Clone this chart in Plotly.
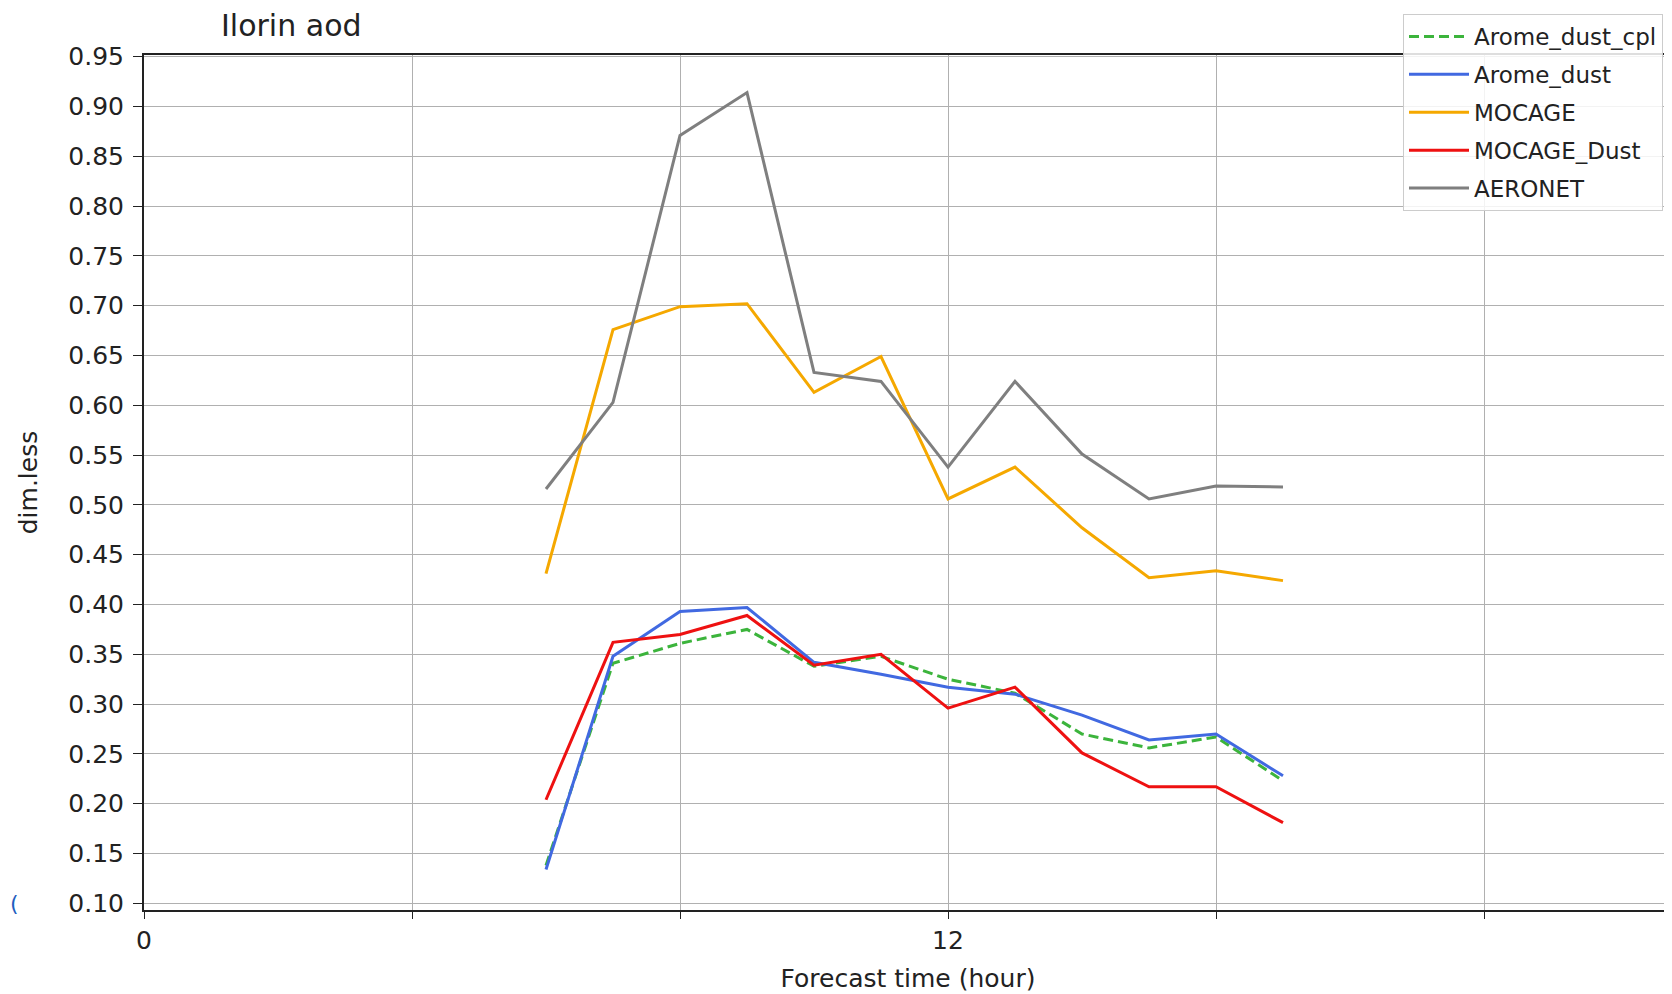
import plotly.graph_objects as go

# ---- data ----
hours = [6, 7, 8, 9, 10, 11, 12, 13, 14, 15, 16, 17]
arome_dust_cpl = [0.138, 0.341, 0.361, 0.375, 0.338, 0.348, 0.325, 0.311, 0.270, 0.256, 0.267, 0.223]
arome_dust = [0.134, 0.348, 0.393, 0.397, 0.342, 0.330, 0.317, 0.310, 0.289, 0.264, 0.270, 0.228]
mocage = [0.431, 0.676, 0.699, 0.702, 0.613, 0.649, 0.506, 0.538, 0.477, 0.427, 0.434, 0.424]
mocage_dust = [0.204, 0.362, 0.370, 0.389, 0.339, 0.350, 0.296, 0.317, 0.251, 0.217, 0.217, 0.181]
aeronet = [0.516, 0.603, 0.871, 0.914, 0.633, 0.624, 0.538, 0.624, 0.551, 0.506, 0.519, 0.518]

series_names = ["Arome_dust_cpl", "Arome_dust", "MOCAGE", "MOCAGE_Dust", "AERONET"]
series_values = [arome_dust_cpl, arome_dust, mocage, mocage_dust, aeronet]
series_colors = ["#3cb43c", "#4169e1", "#f5a800", "#ee1111", "#7f7f7f"]
series_dash = ["10px,5px", "solid", "solid", "solid", "solid"]

x_tick_vals = [0, 4, 8, 12, 16, 20]
x_tick_text = ["0", "", "", "12", "", ""]
y_tick_vals = [round(0.10 + 0.05 * i, 2) for i in range(18)]

# page body has an 8px default margin -> figure is 8px smaller on each axis
OFF = 8
W, H = 1672 - OFF, 994 - OFF
FONT = "DejaVu Sans"
L, T = 144 - OFF, 55 - OFF
PB = 910 - OFF            # plot bottom in figure coordinates
PH = PB - T               # plot height
PW = W - L                # plot width

fig = go.Figure()
for name, vals, col, dash in zip(series_names, series_values, series_colors, series_dash):
    fig.add_trace(go.Scatter(
        x=hours, y=vals, mode="lines", name=name, legendgroup=name,
        line=dict(color=col, width=3, dash=dash),
    ))

fig.update_layout(
    width=W, height=H,
    paper_bgcolor="white", plot_bgcolor="white",
    margin=dict(l=L, r=0, t=T, b=H - PB, autoexpand=False),
    font=dict(family=FONT, size=25, color="#222222"),
    title=dict(text="Ilorin aod", x=(221 - OFF) / W, xanchor="left", xref="container",
               y=1 - (25 - OFF) / H, yanchor="middle", font=dict(size=30, family=FONT, color="#222222")),
    showlegend=True,
    legend=dict(
        x=(1403 - 144) / PW, xanchor="left", y=(PB - (14 - OFF)) / PH, yanchor="top",
        bgcolor="rgba(255,255,255,0.85)", bordercolor="#cccccc", borderwidth=1,
        font=dict(size=23, family=FONT, color="#222222"),
        tracegroupgap=5, traceorder="grouped", itemwidth=60,
    ),
    xaxis=dict(
        range=[0, PW / 67.0],
        tickvals=x_tick_vals, ticktext=x_tick_text,
        ticks="outside", ticklen=7, tickwidth=1.3, tickcolor="#222222",
        showgrid=True, gridcolor="#b0b0b0", gridwidth=1.3,
        showline=True, linecolor="#222222", linewidth=2, mirror=True,
        zeroline=False,
        title=dict(text="Forecast time (hour)", standoff=15, font=dict(size=25, family=FONT)),
    ),
    yaxis=dict(
        range=[0.0933, 0.9517],
        tickvals=y_tick_vals, tickformat=".2f",
        ticks="outside", ticklen=9, tickwidth=1.3, tickcolor="#222222",
        ticklabelstandoff=4,
        showgrid=True, gridcolor="#b0b0b0", gridwidth=1.3,
        showline=True, linecolor="#222222", linewidth=2, mirror=False,
        zeroline=False,
        title=dict(text="dim.less", standoff=24, font=dict(size=25, family=FONT)),
    ),
)

# small blue bracket artefact at the left edge of the original image
fig.add_annotation(text="(", x=0, xref="paper", xanchor="left", xshift=-L,
                   y=0.10, yref="y", yanchor="middle", showarrow=False,
                   font=dict(size=22, color="#1f5fbf", family=FONT))

fig.write_html("out.html")
